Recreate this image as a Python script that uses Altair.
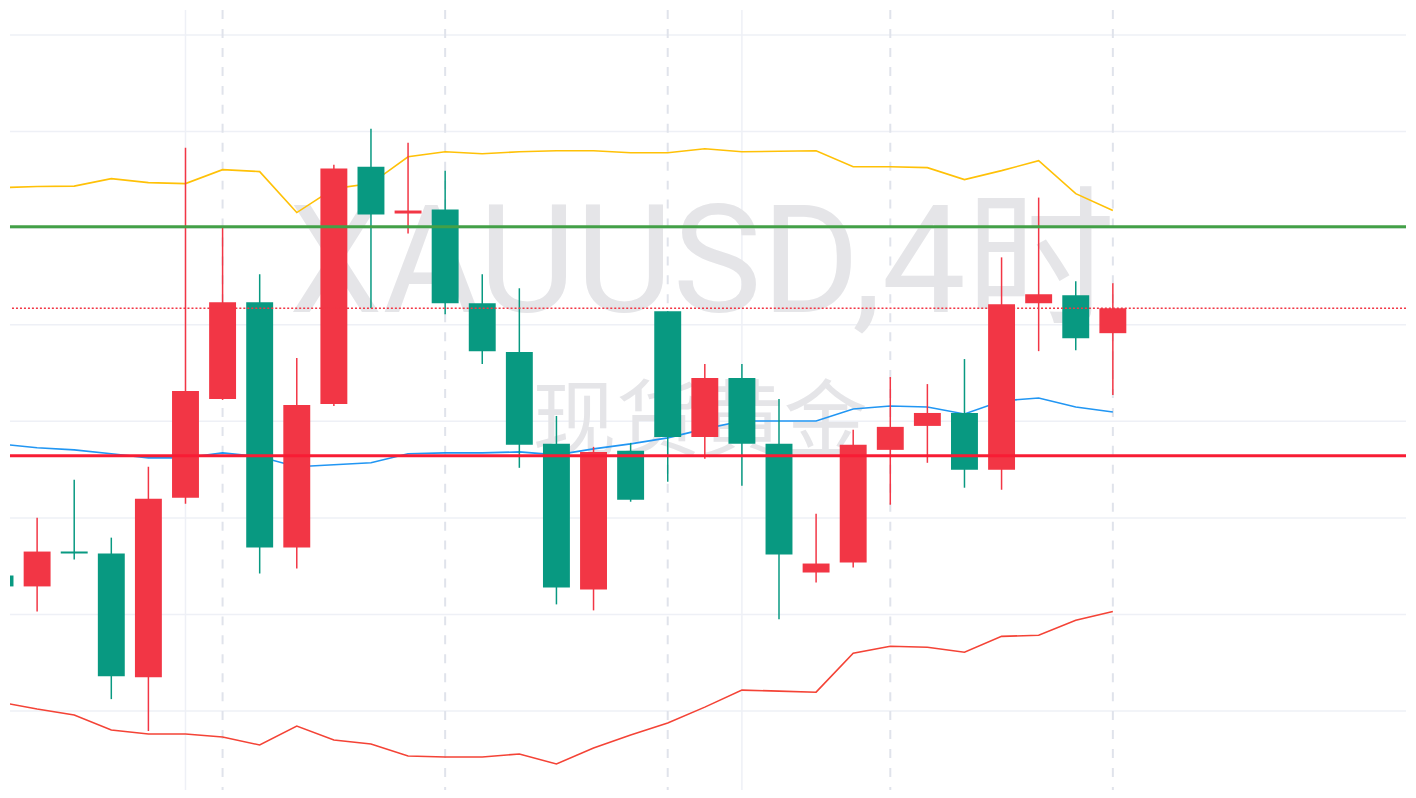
import altair as alt
import pandas as pd

# ---- 4-hour XAUUSD candles (price) ----
opens  = [2334.04, 2332.91, 2336.52, 2336.31, 2323.51, 2342.09, 2352.32, 2362.33,
          2336.93, 2351.80, 2376.37, 2371.52, 2371.93, 2362.23, 2357.17, 2347.67,
          2332.60, 2346.95, 2361.40, 2348.39, 2354.48, 2347.67, 2334.35, 2335.38,
          2347.05, 2349.53, 2350.87, 2344.99, 2362.23, 2363.05, 2359.13]
highs  = [2334.35, 2340.03, 2343.95, 2337.96, 2345.30, 2378.33, 2370.07, 2365.22,
          2356.55, 2376.58, 2380.30, 2378.85, 2375.96, 2365.22, 2363.78, 2350.56,
          2347.36, 2347.77, 2361.40, 2355.93, 2355.93, 2352.32, 2340.44, 2349.12,
          2354.59, 2353.86, 2356.45, 2366.98, 2373.17, 2364.50, 2364.29]
lows   = [2332.70, 2330.32, 2335.69, 2321.24, 2317.94, 2341.48, 2352.22, 2334.25,
          2334.76, 2351.59, 2361.71, 2369.45, 2361.09, 2355.93, 2345.19, 2331.05,
          2330.43, 2341.68, 2343.75, 2346.12, 2343.33, 2329.50, 2333.32, 2334.87,
          2341.37, 2345.71, 2343.13, 2342.92, 2357.27, 2357.37, 2352.73]
closes = [2332.91, 2336.52, 2336.31, 2323.61, 2341.99, 2353.14, 2362.33, 2336.93,
          2351.70, 2376.17, 2371.42, 2371.83, 2362.23, 2357.27, 2347.57, 2332.80,
          2346.84, 2341.89, 2348.39, 2354.48, 2347.67, 2336.21, 2335.28, 2347.57,
          2349.43, 2350.87, 2344.99, 2362.12, 2363.16, 2358.61, 2361.71]

# ---- Bollinger bands ----
bb_upper = [2374.20, 2374.31, 2374.36, 2375.13, 2374.72, 2374.62, 2376.06, 2375.86,
            2371.62, 2374.10, 2374.62, 2377.40, 2377.92, 2377.71, 2377.92, 2378.02,
            2378.02, 2377.82, 2377.82, 2378.23, 2377.92, 2377.97, 2378.02, 2376.37,
            2376.37, 2376.27, 2375.03, 2375.96, 2376.99, 2373.58, 2371.83]
bb_mid   = [2347.67, 2347.26, 2347.05, 2346.64, 2346.22, 2346.22, 2346.74, 2346.33,
            2345.30, 2345.50, 2345.71, 2346.64, 2346.74, 2346.74, 2346.84, 2346.53,
            2347.15, 2347.67, 2348.29, 2349.22, 2350.04, 2350.04, 2350.04, 2351.28,
            2351.59, 2351.49, 2350.77, 2352.11, 2352.42, 2351.49, 2350.97]
bb_lower = [2320.93, 2320.21, 2319.59, 2318.04, 2317.63, 2317.63, 2317.32, 2316.49,
            2318.45, 2317.01, 2316.59, 2315.35, 2315.25, 2315.25, 2315.56, 2314.53,
            2316.18, 2317.52, 2318.76, 2320.41, 2322.17, 2322.07, 2321.96, 2325.99,
            2326.71, 2326.61, 2326.09, 2327.74, 2327.85, 2329.40, 2330.32]

# ---- levels / grid ----
grid_levels = [2320, 2330, 2340, 2350, 2360, 2370, 2380, 2390]
time_grid = [5, 20]
session_breaks = [6, 12, 18, 24, 30]
resistance = [2370.14]
support = [2346.43]
watermark_main = ["XAUUSD,4时"]
watermark_sub = ["现货黄金"]

UP = "#f23645"
DOWN = "#089981"

df = pd.DataFrame({
    "i": list(range(len(opens))),
    "open": opens, "high": highs, "low": lows, "close": closes,
    "upper": bb_upper, "mid": bb_mid, "lower": bb_lower,
})
df["dir"] = ["up" if c >= o else "down" for o, c in zip(opens, closes)]

xs = alt.Scale(domain=[0.2688, 37.903], nice=False, zero=False, padding=0)
ys = alt.Scale(domain=[2311.843, 2392.581], nice=False, zero=False, padding=0)
X = alt.X("i:Q", scale=xs, axis=None)
col = alt.Color("dir:N", scale=alt.Scale(domain=["up", "down"], range=[UP, DOWN]), legend=None)

hgrid = alt.Chart(pd.DataFrame({"v": grid_levels})).mark_rule(
    color="#eef0f6", strokeWidth=1.5).encode(y=alt.Y("v:Q", scale=ys, axis=None))
vgrid = alt.Chart(pd.DataFrame({"t": time_grid})).mark_rule(
    color="#eef0f6", strokeWidth=1.5).encode(x=alt.X("t:Q", scale=xs, axis=None))
vbreak = alt.Chart(pd.DataFrame({"t": session_breaks})).mark_rule(
    color="#e0e3eb", strokeWidth=2, strokeDash=[9, 10]).encode(
    x=alt.X("t:Q", scale=xs, axis=None))

wm1 = alt.Chart(pd.DataFrame({"s": watermark_main})).mark_text(
    font="Roboto, 'Noto Sans CJK SC'", fontSize=150, color="#e5e5e8",
    align="center", baseline="alphabetic").encode(
    text="s:N", x=alt.value(694), y=alt.value(303))
wm2 = alt.Chart(pd.DataFrame({"s": watermark_sub})).mark_text(
    font="'Noto Sans CJK SC'", fontSize=84, color="#e5e5e8",
    align="center", baseline="alphabetic").encode(
    text="s:N", x=alt.value(692), y=alt.value(441))

base = alt.Chart(df)
up_band = base.mark_line(color="#ffc107", strokeWidth=1.6, clip=True).encode(
    x=X, y=alt.Y("upper:Q", scale=ys, axis=None))
mid_band = base.mark_line(color="#2196f3", strokeWidth=1.6, clip=True).encode(
    x=X, y=alt.Y("mid:Q", scale=ys, axis=None))
low_band = base.mark_line(color="#f44336", strokeWidth=1.6, clip=True).encode(
    x=X, y=alt.Y("lower:Q", scale=ys, axis=None))

wicks = base.mark_rule(strokeWidth=1.5, clip=True).encode(
    x=X, y=alt.Y("low:Q", scale=ys, axis=None), y2="high:Q", color=col)
bodies = base.mark_bar(size=27, clip=True).encode(
    x=X, y=alt.Y("open:Q", scale=ys, axis=None), y2="close:Q", color=col)

res_line = alt.Chart(pd.DataFrame({"v": resistance})).mark_rule(
    color="#43a047", strokeWidth=3).encode(y=alt.Y("v:Q", scale=ys, axis=None))
sup_line = alt.Chart(pd.DataFrame({"v": support})).mark_rule(
    color="#f81c34", strokeWidth=3).encode(y=alt.Y("v:Q", scale=ys, axis=None))
last_line = alt.Chart(pd.DataFrame({"v": [closes[-1]]})).mark_rule(
    color=UP, strokeWidth=1.5, strokeDash=[2, 2]).encode(
    y=alt.Y("v:Q", scale=ys, axis=None))

chart = alt.layer(
    hgrid, vgrid, vbreak, wm1, wm2, up_band, mid_band, low_band,
    wicks, bodies, res_line, sup_line, last_line
).properties(width=1400, height=782, padding=0, background="white"
).configure_view(strokeWidth=0)

chart.save("out.html", embed_options={"renderer": "svg", "actions": False})
